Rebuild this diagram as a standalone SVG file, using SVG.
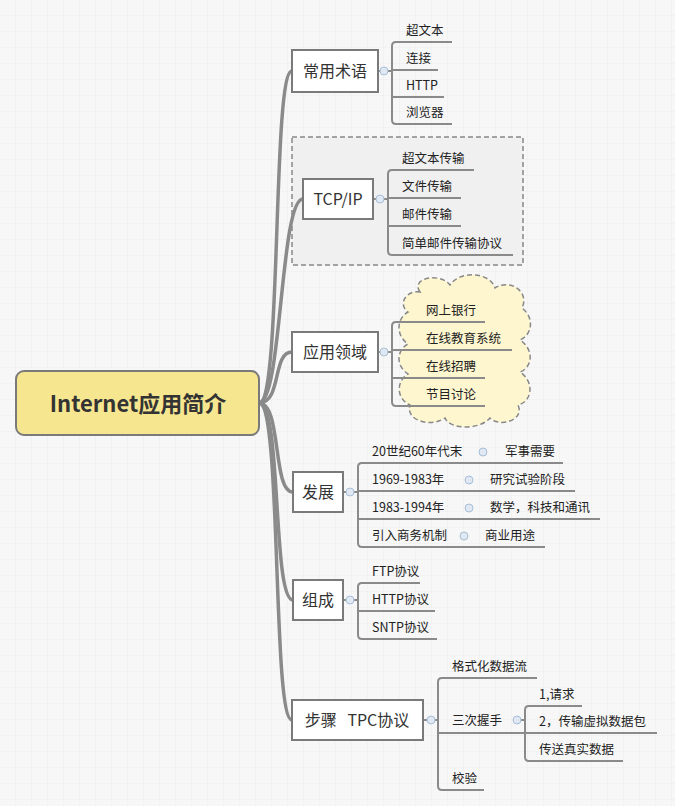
<svg xmlns="http://www.w3.org/2000/svg" width="675" height="806" viewBox="0 0 675 806">
<defs>
<pattern id="grid" width="16" height="16" patternUnits="userSpaceOnUse"><rect width="16" height="16" fill="#f7f7f7"/><path d="M16,0V16H0" fill="none" stroke="#ededed" stroke-width="1"/></pattern>
<style>
.n{fill:#fff;stroke:#7a7a7a;stroke-width:2}
.nt{font-family:"Noto Sans CJK SC","Liberation Sans",sans-serif;font-size:16px;fill:#333;text-anchor:middle}
.st{font-family:"Noto Sans CJK SC","Liberation Sans",sans-serif;font-size:12.5px;fill:#222}
.b{fill:none;stroke:#8a8a8a;stroke-width:2}
.m{fill:none;stroke:#8a8a8a;stroke-width:3.5}
.c{fill:#dfe8f3;stroke:#a9bfd8;stroke-width:1}
</style>
</defs>
<rect width="675" height="806" fill="url(#grid)"/>
<rect x="292" y="137" width="231" height="128" fill="#f0f0f0" stroke="#888" stroke-width="1.5" stroke-dasharray="5,3"/>
<path d="M420,292 C410,278 440,272 450,285 C460,270 490,272 495,288 C510,278 530,292 522,308 C535,318 532,335 520,340 C535,350 532,368 520,372 C535,382 532,402 518,405 C525,420 500,428 490,418 C480,430 450,430 445,418 C430,428 405,420 410,405 C395,398 397,380 408,374 C395,365 397,350 408,344 C395,335 397,318 408,312 C398,305 405,290 420,292 Z" fill="#fdf6cf" stroke="#888" stroke-width="1.5" stroke-dasharray="5,3"/>
<g id="connectors">
<path class="m" d="M259,403 C282,403 272,71 292,71"/>
<path class="m" d="M259,403 C282,403 280,199 303,199"/>
<path class="m" d="M259,403 C282,403 272,352 292,352"/>
<path class="m" d="M259,403 C282,403 272,492 293,492"/>
<path class="m" d="M259,403 C282,403 272,600 293,600"/>
<path class="m" d="M259,403 C282,403 272,720 292,720"/>
<path class="b" d="M378,71H392 M452,42H396Q392,42 392,46V120Q392,124 396,124H452 M392,70H438 M392,97H444"/>
<path class="b" d="M373,199H388 M474,170H392Q388,170 388,174V251Q388,255 392,255H513 M388,198H461 M388,226H461"/>
<path class="b" d="M378,352H392 M485,322H396Q392,322 392,326V402Q392,406 396,406H485 M392,350H512 M392,378H485"/>
<path class="b" d="M343,492H358 M563,463H362Q358,463 358,467V543Q358,547 362,547H545 M358,491H575 M358,519H600"/>
<path class="b" d="M343,600H358 M420,583H362Q358,583 358,587V635Q358,639 362,639H437 M358,611H435"/>
<path class="b" d="M423,720H438 M537,678H442Q438,678 438,682V786Q438,790 442,790H484 M438,733H525"/>
<path class="b" d="M517,720H525 M582,706H529Q525,706 525,710V757Q525,761 529,761H623 M525,733H657"/>
</g>
<g id="root"><rect x="16" y="371" width="243" height="64" rx="8" fill="#f6e68f" stroke="#7a7a7a" stroke-width="2"/><text x="138" y="412" text-anchor="middle" font-family="'Noto Sans CJK SC','Liberation Sans',sans-serif" font-size="22" font-weight="bold" fill="#333">Internet应用简介</text></g>
<g id="n1"><rect class="n" x="292" y="50" width="86" height="42"/><text class="nt" x="335" y="77">常用术语</text><circle class="c" cx="384" cy="71" r="4"/>
<text class="st" x="406" y="35">超文本</text><text class="st" x="406" y="63">连接</text><text class="st" x="406" y="90">HTTP</text><text class="st" x="406" y="117">浏览器</text></g>
<g id="n2"><rect class="n" x="303" y="179" width="70" height="40"/><text class="nt" x="338" y="205">TCP/IP</text><circle class="c" cx="380" cy="199" r="4"/>
<text class="st" x="402" y="163">超文本传输</text><text class="st" x="402" y="191">文件传输</text><text class="st" x="402" y="219">邮件传输</text><text class="st" x="402" y="248">简单邮件传输协议</text></g>
<g id="n3"><rect class="n" x="292" y="332" width="86" height="40"/><text class="nt" x="335" y="358">应用领域</text><circle class="c" cx="384" cy="352" r="4"/>
<text class="st" x="426" y="315">网上银行</text><text class="st" x="426" y="343">在线教育系统</text><text class="st" x="426" y="371">在线招聘</text><text class="st" x="426" y="399">节目讨论</text></g>
<g id="n4"><rect class="n" x="293" y="472" width="50" height="40"/><text class="nt" x="318" y="498">发展</text><circle class="c" cx="350" cy="492" r="4"/>
<text class="st" x="372" y="456">20世纪60年代末</text><circle class="c" cx="483" cy="452" r="4"/><text class="st" x="505" y="456">军事需要</text>
<text class="st" x="372" y="484">1969-1983年</text><circle class="c" cx="469" cy="480" r="4"/><text class="st" x="490" y="484">研究试验阶段</text>
<text class="st" x="372" y="512">1983-1994年</text><circle class="c" cx="469" cy="508" r="4"/><text class="st" x="490" y="512">数学，科技和通讯</text>
<text class="st" x="372" y="540">引入商务机制</text><circle class="c" cx="464" cy="536" r="4"/><text class="st" x="485" y="540">商业用途</text></g>
<g id="n5"><rect class="n" x="293" y="580" width="50" height="40"/><text class="nt" x="318" y="606">组成</text><circle class="c" cx="350" cy="600" r="4"/>
<text class="st" x="372" y="576">FTP协议</text><text class="st" x="372" y="604">HTTP协议</text><text class="st" x="372" y="632">SNTP协议</text></g>
<g id="n6"><rect class="n" x="292" y="700" width="131" height="40"/><text class="nt" x="357" y="726" xml:space="preserve">步骤   TPC协议</text><circle class="c" cx="431" cy="720" r="4"/>
<text class="st" x="452" y="671">格式化数据流</text><text class="st" x="452" y="725">三次握手</text><circle class="c" cx="517" cy="720" r="4"/><text class="st" x="452" y="783">校验</text>
<text class="st" x="539" y="699">1,请求</text><text class="st" x="539" y="726">2，传输虚拟数据包</text><text class="st" x="539" y="754">传送真实数据</text></g>
</svg>
